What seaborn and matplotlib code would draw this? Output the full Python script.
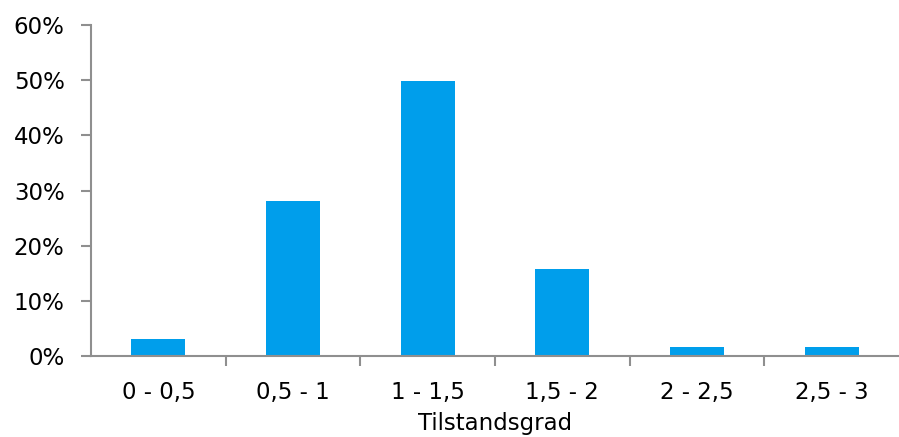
import matplotlib
matplotlib.use("Agg")
import matplotlib.pyplot as plt
import seaborn as sns
import pandas as pd
import numpy as np
from matplotlib.ticker import FixedLocator, PercentFormatter

# Share of buildings per condition-grade interval
categories = ["0 - 0,5", "0,5 - 1", "1 - 1,5", "1,5 - 2", "2 - 2,5", "2,5 - 3"]
shares = [3.0, 28.1, 49.8, 15.7, 1.6, 1.6]
y_ticks = [0, 10, 20, 30, 40, 50, 60]
x_title = "Tilstandsgrad"

sns.set_theme(style="white")
plt.rcParams["font.family"] = ["DejaVu Sans"]

df = pd.DataFrame({"cat": categories, "share": shares})

fig = plt.figure(figsize=(8.99, 4.37), dpi=100)
ax = fig.add_axes([91 / 899, 1 - 356 / 437, 1 - 91 / 899, (356 - 25) / 437])

sns.barplot(data=df, x="cat", y="share", color="#009EEB", saturation=1,
            width=0.4, ax=ax, edgecolor="none")

axis_gray = "#8F8F8F"
ax.set_xlim(-0.5, len(categories) - 0.5)
ax.set_ylim(0, 60)
ax.set_yticks(y_ticks)
ax.yaxis.set_major_formatter(PercentFormatter(decimals=0))

for side in ["top", "right"]:
    ax.spines[side].set_visible(False)
for side in ["left", "bottom"]:
    ax.spines[side].set_color(axis_gray)
    ax.spines[side].set_linewidth(1.5)

ax.tick_params(axis="y", which="major", left=True, length=7, width=1.5,
               color=axis_gray, labelsize=16.5, labelcolor="black", pad=12)
ax.tick_params(axis="x", which="major", bottom=False, labelsize=16.5,
               labelcolor="black", pad=12)
# category boundary ticks
ax.xaxis.set_minor_locator(FixedLocator(np.arange(0.5, len(categories) - 0.5, 1.0)))
ax.tick_params(axis="x", which="minor", bottom=True, length=7, width=1.5,
               color=axis_gray)

ax.set_ylabel("")
ax.set_xlabel(x_title, fontsize=16.5, color="black", labelpad=6)
ax.grid(False)

fig.savefig("out.png", dpi=100)
